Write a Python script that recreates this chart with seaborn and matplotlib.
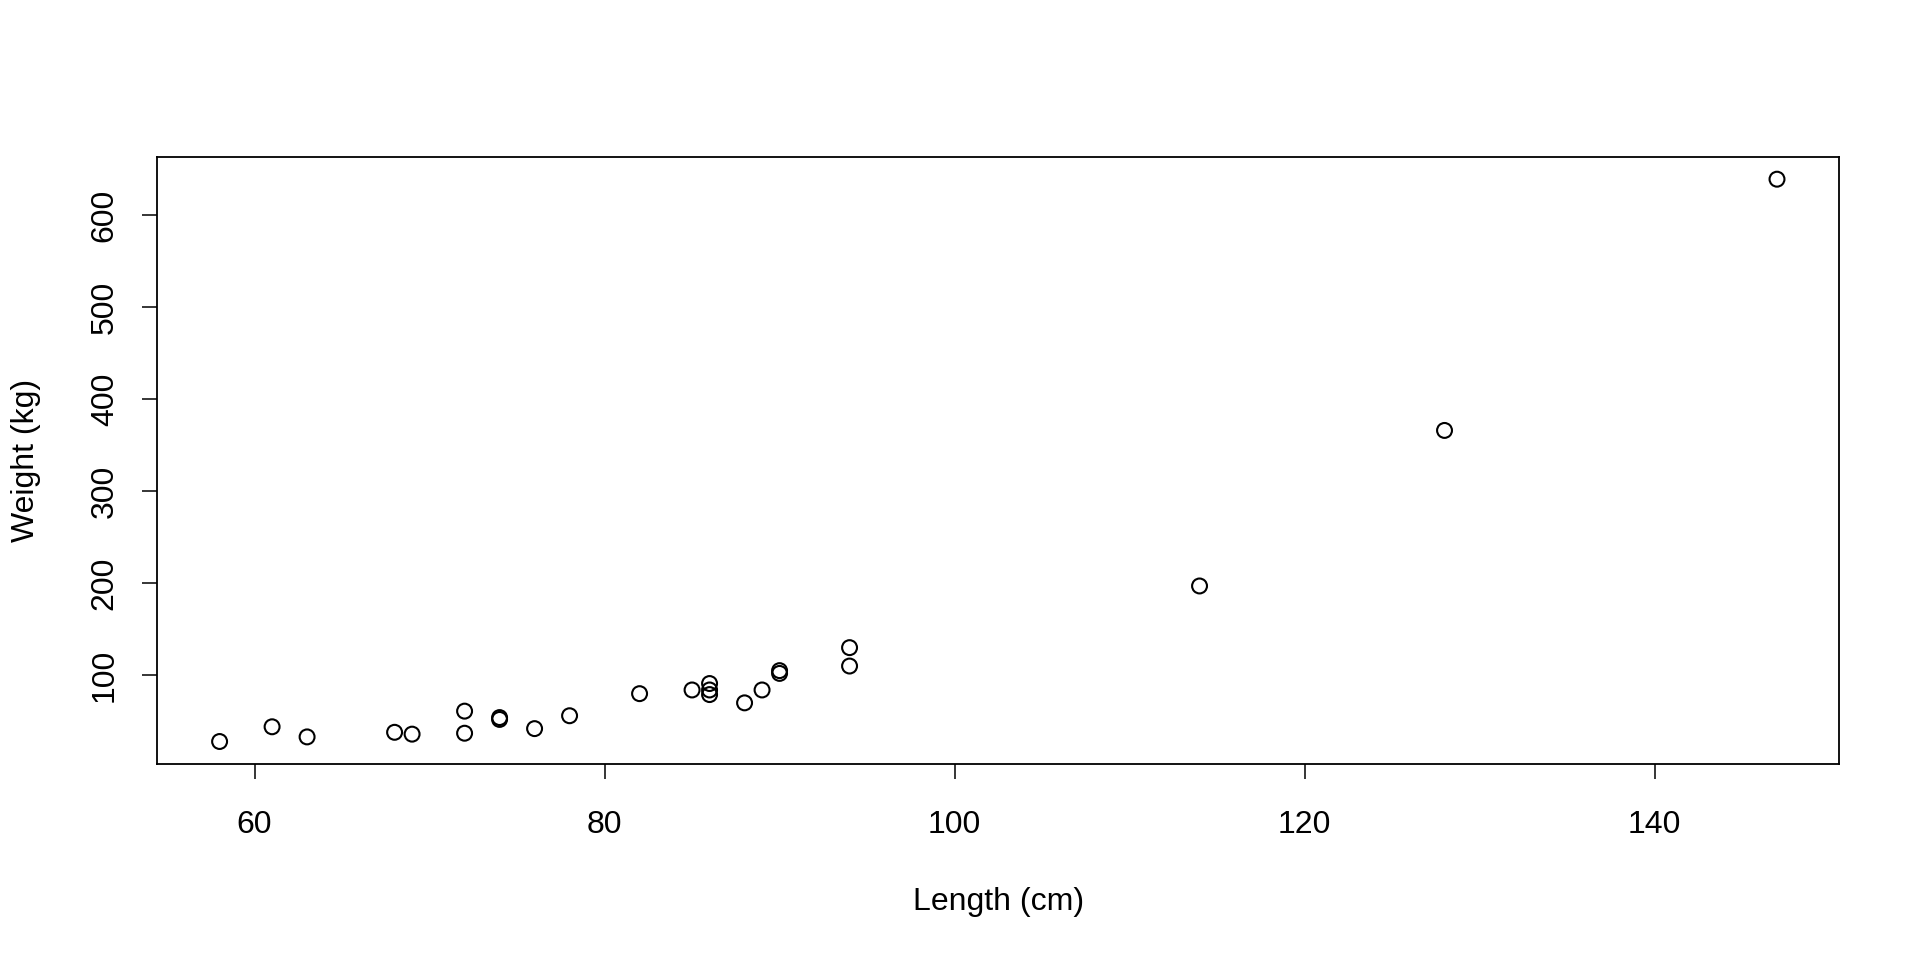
import matplotlib
matplotlib.use("Agg")
import matplotlib.pyplot as plt
import seaborn as sns
import pandas as pd

length_cm = [58, 61, 63, 68, 69, 72, 72, 74, 74, 76, 78, 82, 85, 86, 86, 86,
             88, 89, 90, 90, 94, 94, 114, 128, 147]
weight_kg = [28, 44, 33, 38, 36, 61, 37, 54, 52, 42, 56, 80, 84, 91, 84, 79,
             70, 84, 105, 102, 130, 110, 197, 366, 639]
x_ticks = [60, 80, 100, 120, 140]
y_ticks = [100, 200, 300, 400, 500, 600]

df = pd.DataFrame({"Length": length_cm, "Weight": weight_kg})

sns.set_style("white")
plt.rcParams["font.family"] = ["Liberation Sans", "DejaVu Sans"]
plt.rcParams["text.color"] = "black"
plt.rcParams["axes.labelcolor"] = "black"

fig = plt.figure(figsize=(19.2, 9.6), dpi=100)
ax = fig.add_axes([157.3 / 1920, 1 - 764 / 960, (1839.3 - 157.3) / 1920, (764 - 156.7) / 960])

sns.scatterplot(data=df, x="Length", y="Weight", ax=ax, marker="o", s=115,
                facecolor="none", edgecolor="black", linewidth=1.5)

def pad_lim(vals):
    lo, hi = min(vals), max(vals)
    r = hi - lo
    return lo - 0.04 * r, hi + 0.04 * r

ax.set_xlim(*pad_lim(length_cm))
ax.set_ylim(*pad_lim(weight_kg))
ax.set_xticks(x_ticks)
ax.set_yticks(y_ticks)
ax.set_yticklabels([str(v) for v in y_ticks], rotation=90, va="center")

for s in ax.spines.values():
    s.set_visible(True)
    s.set_color("black")
    s.set_linewidth(1.3)

ax.tick_params(axis="both", which="both", direction="out", length=11, width=1.1,
               color="black", labelsize=23, labelcolor="black", bottom=True, left=True)
ax.tick_params(axis="x", pad=22)
ax.tick_params(axis="y", pad=16)

ax.set_xlabel("Length (cm)", fontsize=23, labelpad=34, color="black")
ax.set_ylabel("Weight (kg)", fontsize=23, labelpad=35, color="black")
ax.grid(False)

fig.savefig("out.png", dpi=100, facecolor="white")
